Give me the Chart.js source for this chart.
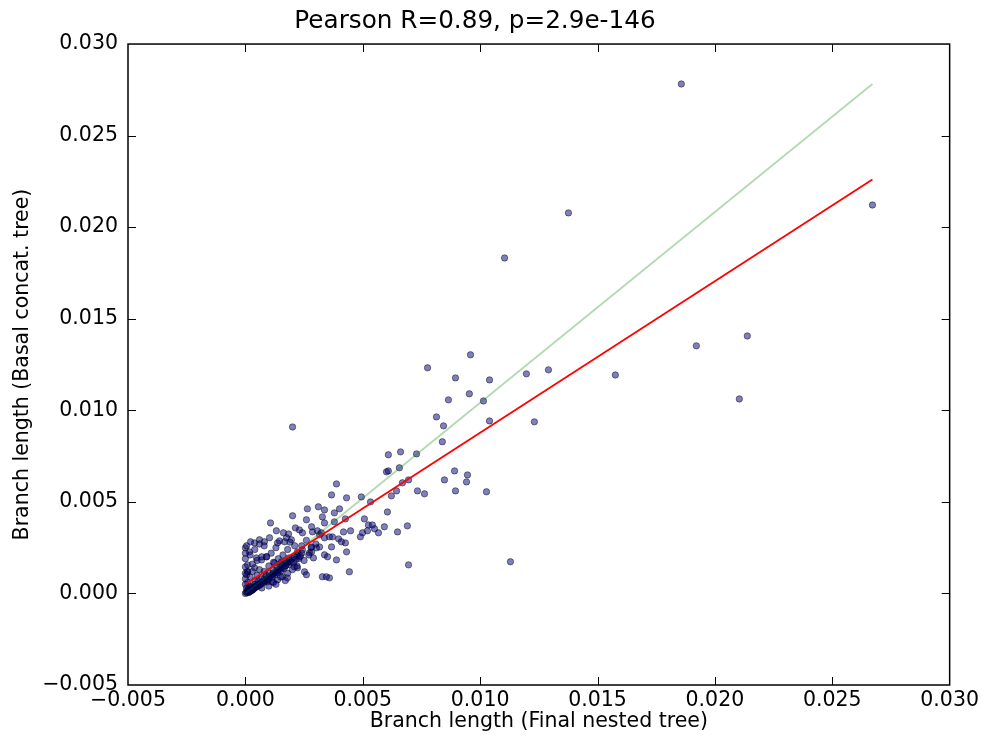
<!DOCTYPE html>
<html>
<head>
<meta charset="utf-8">
<script src="https://cdn.jsdelivr.net/npm/chart.js@4.4.1/dist/chart.umd.min.js"></script>
<style>
  html, body { margin: 0; padding: 0; background: #fff; }
  #wrap { width: 982px; height: 735px; }
</style>
</head>
<body>
<div id="wrap"><canvas id="scatterChart" width="982" height="735"></canvas></div>
<script>
// Branch lengths: final nested tree (x) vs basal concat. tree (y)
const branchX = [
  0.01857, 0.02671, 0.01376, 0.01104, 0.02138, 0.01921, 0.01576, 0.02104, 0.01197, 0.01291,
  0.00959, 0.00776, 0.00895, 0.01040, 0.00954, 0.00865, 0.01014, 0.00814, 0.01040, 0.01231,
  0.00844, 0.00839, 0.00201, 0.00609, 0.00661, 0.00729, 0.00601, 0.00609, 0.00656, 0.00891,
  0.00946, 0.00848, 0.00942, 0.00895, 0.01027, 0.00733, 0.00763, 0.00695, 0.00669, 0.00644,
  0.00622, 0.00494, 0.00431, 0.00367, 0.00388, 0.00533, 0.00605, 0.00401, 0.00379, 0.00507,
  0.00524, 0.00541, 0.00550, 0.00567, 0.00592, 0.00648, 0.00690, 0.00520, 0.00499, 0.00490,
  0.00448, 0.00418, 0.00426, 0.00431, 0.00388, 0.00443, 0.00695, 0.01129, 0.00367, 0.00358,
  0.00379, 0.00426, 0.00371, 0.00397, 0.00328, 0.00345, 0.00264, 0.00311, 0.00337, 0.00201,
  0.00107, 0.00328, 0.00260, 0.00132, 0.00162, 0.00184, 0.00213, 0.00230, 0.00243, 0.00282,
  0.00286, 0.00307, 0.00316, 0.00337, 0.00358, 0.00337, 0.00324, 0.00409, 0.00022, 0.00039,
  0.00060, 0.00081, 0.00103, 0.00145, 0.00175, 0.00196, 0.00137, 0.00167, 0.00000, 0.00017,
  0.00009, 0.00039, 0.00222, 0.00243, 0.00273, 0.00282, 0.00303, 0.00316, 0.00337, 0.00350,
  0.00252, 0.00260, 0.00209, 0.00222, 0.00158, 0.00179, 0.00137, 0.00115, 0.00094, 0.00124,
  0.00154, 0.00179, 0.00047, 0.00069, 0.00090, 0.00290, 0.00282, 0.00230, 0.00000, 0.00009,
  0.00005,
  // dense cluster near the origin
  0.00000, 0.00010, 0.00020, 0.00010, 0.00030, 0.00040, 0.00050, 0.00020, 0.00060, 0.00070,
  0.00080, 0.00090, 0.00100, 0.00110, 0.00120, 0.00130, 0.00140, 0.00150, 0.00160, 0.00170,
  0.00180, 0.00190, 0.00200, 0.00210, 0.00220, 0.00240, 0.00010, 0.00020, 0.00030, 0.00040,
  0.00050, 0.00060, 0.00030, 0.00080, 0.00100, 0.00120, 0.00090, 0.00110, 0.00070, 0.00050,
  0.00140, 0.00160, 0.00180, 0.00130, 0.00080, 0.00040, 0.00060, 0.00020, 0.00010, 0.00120,
  0.00100, 0.00070, 0.00150, 0.00180, 0.00200, 0.00220, 0.00250, 0.00170, 0.00130, 0.00240,
  0.00260, 0.00280, 0.00300, 0.00270, 0.00210, 0.00190, 0.00000, 0.00000, 0.00000, 0.00000,
  0.00000, 0.00005, 0.00005, 0.00015, 0.00025, 0.00035, 0.00045, 0.00055, 0.00065, 0.00075,
  // band along the fit
  0.00003, 0.00008, 0.00012, 0.00018, 0.00022, 0.00028, 0.00033, 0.00038, 0.00043, 0.00048,
  0.00053, 0.00058, 0.00063, 0.00068, 0.00073, 0.00078, 0.00085, 0.00092, 0.00098, 0.00105,
  0.00112, 0.00118, 0.00125, 0.00132, 0.00138, 0.00145, 0.00152, 0.00158, 0.00165, 0.00172,
  0.00185, 0.00195, 0.00205, 0.00215, 0.00228, 0.00235, 0.00012, 0.00025, 0.00040, 0.00055,
  0.00070, 0.00088, 0.00102, 0.00118, 0.00135, 0.00150, 0.00168, 0.00185, 0.00030, 0.00062
];
const branchY = [
  0.02782, 0.02121, 0.02078, 0.01832, 0.01406, 0.01352, 0.01193, 0.01062, 0.01199, 0.01221,
  0.01303, 0.01232, 0.01177, 0.01166, 0.01090, 0.01057, 0.01051, 0.00964, 0.00942, 0.00937,
  0.00915, 0.00828, 0.00909, 0.00757, 0.00773, 0.00762, 0.00664, 0.00669, 0.00686, 0.00669,
  0.00647, 0.00620, 0.00609, 0.00560, 0.00555, 0.00560, 0.00544, 0.00620, 0.00604, 0.00560,
  0.00533, 0.00527, 0.00522, 0.00538, 0.00598, 0.00500, 0.00445, 0.00462, 0.00440, 0.00407,
  0.00374, 0.00374, 0.00353, 0.00331, 0.00364, 0.00336, 0.00369, 0.00342, 0.00331, 0.00309,
  0.00342, 0.00336, 0.00276, 0.00227, 0.00183, 0.00118, 0.00156, 0.00173, 0.00254, 0.00085,
  0.00391, 0.00407, 0.00309, 0.00298, 0.00091, 0.00091, 0.00462, 0.00473, 0.00456, 0.00424,
  0.00385, 0.00418, 0.00402, 0.00342, 0.00331, 0.00325, 0.00358, 0.00347, 0.00331, 0.00364,
  0.00336, 0.00342, 0.00320, 0.00304, 0.00309, 0.00385, 0.00331, 0.00282, 0.00282, 0.00276,
  0.00293, 0.00282, 0.00304, 0.00287, 0.00304, 0.00293, 0.00276, 0.00282, 0.00249, 0.00227,
  0.00156, 0.00140, 0.00227, 0.00238, 0.00222, 0.00254, 0.00249, 0.00254, 0.00211, 0.00200,
  0.00118, 0.00102, 0.00145, 0.00140, 0.00091, 0.00085, 0.00074, 0.00063, 0.00063, 0.00167,
  0.00173, 0.00167, 0.00194, 0.00183, 0.00200, 0.00194, 0.00227, 0.00200, 0.00145, 0.00118,
  0.00102,
  // dense cluster near the origin
  0.00000, 0.00010, 0.00010, 0.00020, 0.00020, 0.00030, 0.00040, 0.00040, 0.00050, 0.00060,
  0.00080, 0.00070, 0.00090, 0.00100, 0.00110, 0.00120, 0.00130, 0.00140, 0.00160, 0.00150,
  0.00170, 0.00180, 0.00190, 0.00200, 0.00210, 0.00220, 0.00060, 0.00090, 0.00120, 0.00070,
  0.00100, 0.00130, 0.00160, 0.00120, 0.00150, 0.00170, 0.00200, 0.00220, 0.00200, 0.00180,
  0.00190, 0.00210, 0.00240, 0.00250, 0.00260, 0.00240, 0.00270, 0.00210, 0.00120, 0.00060,
  0.00040, 0.00030, 0.00090, 0.00110, 0.00130, 0.00150, 0.00180, 0.00070, 0.00050, 0.00260,
  0.00290, 0.00250, 0.00270, 0.00210, 0.00260, 0.00280, 0.00050, 0.00080, 0.00110, 0.00190,
  0.00220, 0.00260, 0.00030, 0.00005, 0.00015, 0.00025, 0.00035, 0.00045, 0.00055, 0.00065,
  // band along the fit
  0.00008, 0.00004, 0.00016, 0.00012, 0.00024, 0.00020, 0.00032, 0.00028, 0.00040, 0.00036,
  0.00048, 0.00044, 0.00056, 0.00052, 0.00064, 0.00060, 0.00072, 0.00080, 0.00076, 0.00092,
  0.00088, 0.00104, 0.00100, 0.00116, 0.00112, 0.00128, 0.00124, 0.00140, 0.00136, 0.00152,
  0.00158, 0.00172, 0.00168, 0.00186, 0.00190, 0.00205, 0.00022, 0.00034, 0.00050, 0.00066,
  0.00082, 0.00098, 0.00110, 0.00128, 0.00144, 0.00158, 0.00176, 0.00194, 0.00018, 0.00046
];

// reference line (green) and regression fit (red)
const refLineX = [0.0, 0.02671];
const refLineY = [0.0, 0.02782];
const fitLineX = [0.0, 0.02671];
const fitLineY = [0.0005, 0.0226];

const tickValues = [-0.005, 0.000, 0.005, 0.010, 0.015, 0.020, 0.025, 0.030];
const tickLabels = ["\u22120.005", "0.000", "0.005", "0.010", "0.015", "0.020", "0.025", "0.030"];

const chartTitle = "Pearson R=0.89, p=2.9e-146";
const xTitle = "Branch length (Final nested tree)";
const yTitle = "Branch length (Basal concat. tree)";

const FONT = "'DejaVu Sans', 'Bitstream Vera Sans', sans-serif";

function toPoints(xs, ys) {
  return xs.map((x, i) => ({ x: x, y: ys[i] }));
}

function tickLabel(v) {
  const idx = tickValues.findIndex(t => Math.abs(t - v) < 1e-9);
  return idx >= 0 ? tickLabels[idx] : "";
}

// Rahmen + nach innen zeigende Ticks (matplotlib-Stil)
const frameTicks = {
  id: "frameTicks",
  afterDraw(chart) {
    const ctx = chart.ctx;
    const { left, right, top, bottom } = chart.chartArea;
    const xs = chart.scales.x;
    const ys = chart.scales.y;
    const len = 8;
    ctx.save();
    ctx.strokeStyle = "#000";
    ctx.lineWidth = 1;
    ctx.beginPath();
    tickValues.forEach(v => {
      const px = Math.round(xs.getPixelForValue(v)) + 0.5;
      if (px > left + 2 && px < right - 2) {
        ctx.moveTo(px, bottom); ctx.lineTo(px, bottom - len);
        ctx.moveTo(px, top); ctx.lineTo(px, top + len);
      }
      const py = Math.round(ys.getPixelForValue(v)) + 0.5;
      if (py > top + 2 && py < bottom - 2) {
        ctx.moveTo(left, py); ctx.lineTo(left + len, py);
        ctx.moveTo(right, py); ctx.lineTo(right - len, py);
      }
    });
    ctx.stroke();
    ctx.lineWidth = 1.5;
    ctx.strokeRect(left, top, right - left, bottom - top);
    ctx.restore();
  }
};

const ctx = document.getElementById("scatterChart").getContext("2d");

new Chart(ctx, {
  type: "scatter",
  data: {
    datasets: [
      {
        label: "fit",
        data: toPoints(fitLineX, fitLineY),
        showLine: true,
        borderColor: "rgb(255, 0, 0)",
        borderWidth: 1.8,
        pointRadius: 0,
        order: 1
      },
      {
        label: "reference",
        data: toPoints(refLineX, refLineY),
        showLine: true,
        borderColor: "rgba(0, 128, 0, 0.3)",
        borderWidth: 1.8,
        pointRadius: 0,
        order: 2
      },
      {
        label: "branches",
        data: toPoints(branchX, branchY),
        backgroundColor: "rgba(0, 0, 128, 0.5)",
        borderColor: "rgba(0, 0, 0, 0.45)",
        borderWidth: 1,
        pointRadius: 3.2,
        order: 3
      }
    ]
  },
  options: {
    responsive: false,
    animation: false,
    layout: {
      padding: { top: 0, bottom: 0, left: 0, right: 32 }
    },
    plugins: {
      legend: { display: false },
      tooltip: { enabled: false },
      title: {
        display: true,
        text: chartTitle,
        color: "#000",
        font: { family: FONT, size: 24.7, weight: "normal" },
        padding: { top: 7, bottom: 7.4 }
      }
    },
    scales: {
      x: {
        type: "linear",
        min: -0.005,
        max: 0.030,
        afterBuildTicks: scale => { scale.ticks = tickValues.map(v => ({ value: v })); },
        afterFit: scale => { scale.height = 50; },
        grid: { display: false, drawTicks: false },
        border: { display: false },
        ticks: {
          color: "#000",
          padding: 3,
          maxRotation: 0,
          font: { family: FONT, size: 20.5 },
          callback: v => tickLabel(v)
        },
        title: {
          display: true,
          text: xTitle,
          color: "#000",
          font: { family: FONT, size: 20.5 },
          padding: { top: 0, bottom: 1 }
        }
      },
      y: {
        type: "linear",
        min: -0.005,
        max: 0.030,
        afterBuildTicks: scale => { scale.ticks = tickValues.map(v => ({ value: v })); },
        afterFit: scale => { scale.width = 128; },
        grid: { display: false, drawTicks: false },
        border: { display: false },
        ticks: {
          color: "#000",
          padding: 10,
          font: { family: FONT, size: 20.5 },
          callback: v => tickLabel(v)
        },
        title: {
          display: true,
          text: yTitle,
          color: "#000",
          font: { family: FONT, size: 20.5 },
          padding: { top: 10, bottom: 0 }
        }
      }
    }
  },
  plugins: [frameTicks]
});
</script>
</body>
</html>
